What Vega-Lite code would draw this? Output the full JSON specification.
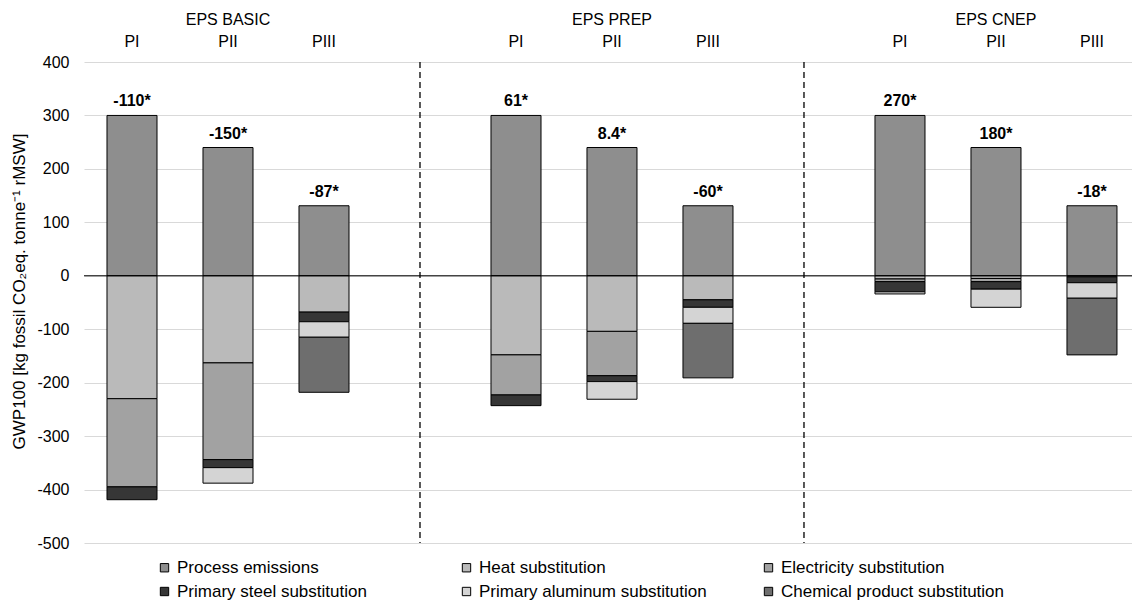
{
  "$schema": "https://vega.github.io/schema/vega-lite/v6.json",
  "width": 1048,
  "height": 481,
  "autosize": {"type": "none"},
  "padding": {"left": 84, "top": 62, "right": 0, "bottom": 57},
  "background": "white",
  "config": {
    "view": {"stroke": null},
    "font": "Liberation Sans",
    "axis": {"labelFont": "Liberation Sans", "titleFont": "Liberation Sans", "labelColor": "#000", "titleColor": "#000"},
    "legend": {"labelFont": "Liberation Sans"}
  },
  "datasets": {
    "bars": [
      {"bar": "BASIC PI", "source": "Process emissions", "ord": 0, "value": 300},
      {"bar": "BASIC PI", "source": "Heat substitution", "ord": 1, "value": -230},
      {"bar": "BASIC PI", "source": "Electricity substitution", "ord": 2, "value": -165},
      {"bar": "BASIC PI", "source": "Primary steel substitution", "ord": 3, "value": -24},
      {"bar": "BASIC PII", "source": "Process emissions", "ord": 0, "value": 240},
      {"bar": "BASIC PII", "source": "Heat substitution", "ord": 1, "value": -163},
      {"bar": "BASIC PII", "source": "Electricity substitution", "ord": 2, "value": -181},
      {"bar": "BASIC PII", "source": "Primary steel substitution", "ord": 3, "value": -15},
      {"bar": "BASIC PII", "source": "Primary aluminum substitution", "ord": 4, "value": -29},
      {"bar": "BASIC PIII", "source": "Process emissions", "ord": 0, "value": 131},
      {"bar": "BASIC PIII", "source": "Heat substitution", "ord": 1, "value": -68},
      {"bar": "BASIC PIII", "source": "Primary steel substitution", "ord": 3, "value": -18},
      {"bar": "BASIC PIII", "source": "Primary aluminum substitution", "ord": 4, "value": -29},
      {"bar": "BASIC PIII", "source": "Chemical product substitution", "ord": 5, "value": -103},
      {"bar": "PREP PI", "source": "Process emissions", "ord": 0, "value": 300},
      {"bar": "PREP PI", "source": "Heat substitution", "ord": 1, "value": -148},
      {"bar": "PREP PI", "source": "Electricity substitution", "ord": 2, "value": -75},
      {"bar": "PREP PI", "source": "Primary steel substitution", "ord": 3, "value": -20},
      {"bar": "PREP PII", "source": "Process emissions", "ord": 0, "value": 240},
      {"bar": "PREP PII", "source": "Heat substitution", "ord": 1, "value": -104},
      {"bar": "PREP PII", "source": "Electricity substitution", "ord": 2, "value": -83},
      {"bar": "PREP PII", "source": "Primary steel substitution", "ord": 3, "value": -11},
      {"bar": "PREP PII", "source": "Primary aluminum substitution", "ord": 4, "value": -33},
      {"bar": "PREP PIII", "source": "Process emissions", "ord": 0, "value": 131},
      {"bar": "PREP PIII", "source": "Heat substitution", "ord": 1, "value": -45},
      {"bar": "PREP PIII", "source": "Primary steel substitution", "ord": 3, "value": -14},
      {"bar": "PREP PIII", "source": "Primary aluminum substitution", "ord": 4, "value": -30},
      {"bar": "PREP PIII", "source": "Chemical product substitution", "ord": 5, "value": -102},
      {"bar": "CNEP PI", "source": "Process emissions", "ord": 0, "value": 300},
      {"bar": "CNEP PI", "source": "Heat substitution", "ord": 1, "value": -6},
      {"bar": "CNEP PI", "source": "Electricity substitution", "ord": 2, "value": -5},
      {"bar": "CNEP PI", "source": "Primary steel substitution", "ord": 3, "value": -19},
      {"bar": "CNEP PI", "source": "Primary aluminum substitution", "ord": 4, "value": -4},
      {"bar": "CNEP PII", "source": "Process emissions", "ord": 0, "value": 240},
      {"bar": "CNEP PII", "source": "Heat substitution", "ord": 1, "value": -5},
      {"bar": "CNEP PII", "source": "Electricity substitution", "ord": 2, "value": -6},
      {"bar": "CNEP PII", "source": "Primary steel substitution", "ord": 3, "value": -14},
      {"bar": "CNEP PII", "source": "Primary aluminum substitution", "ord": 4, "value": -34},
      {"bar": "CNEP PIII", "source": "Process emissions", "ord": 0, "value": 131},
      {"bar": "CNEP PIII", "source": "Heat substitution", "ord": 1, "value": -2},
      {"bar": "CNEP PIII", "source": "Primary steel substitution", "ord": 3, "value": -11},
      {"bar": "CNEP PIII", "source": "Primary aluminum substitution", "ord": 4, "value": -29},
      {"bar": "CNEP PIII", "source": "Chemical product substitution", "ord": 5, "value": -106}
    ],
    "labels": [
      {"bar": "BASIC PI", "top": 300, "label": "-110*"},
      {"bar": "BASIC PII", "top": 240, "label": "-150*"},
      {"bar": "BASIC PIII", "top": 131, "label": "-87*"},
      {"bar": "PREP PI", "top": 300, "label": "61*"},
      {"bar": "PREP PII", "top": 240, "label": "8.4*"},
      {"bar": "PREP PIII", "top": 131, "label": "-60*"},
      {"bar": "CNEP PI", "top": 300, "label": "270*"},
      {"bar": "CNEP PII", "top": 240, "label": "180*"},
      {"bar": "CNEP PIII", "top": 131, "label": "-18*"}
    ],
    "gaps": [{"bar": "gap1"}, {"bar": "gap2"}],
    "zero": [{"v": 0}]
  },
  "encoding": {
    "x": {
      "field": "bar",
      "type": "nominal",
      "sort": null,
      "scale": {
        "domain": ["BASIC PI", "BASIC PII", "BASIC PIII", "gap1", "PREP PI", "PREP PII", "PREP PIII", "gap2", "CNEP PI", "CNEP PII", "CNEP PIII"],
        "paddingInner": 0.479,
        "paddingOuter": 0.198,
        "align": 0.605
      },
      "axis": {
        "orient": "top",
        "title": null,
        "domain": false,
        "ticks": false,
        "labelAngle": 0,
        "labelFontSize": 16,
        "labelPadding": 35,
        "labelLineHeight": 22,
        "labelExpr": "indexof(datum.value, 'gap') == 0 ? '' : (split(datum.value, ' ')[1] == 'PII' ? ['EPS ' + split(datum.value, ' ')[0], 'PII'] : [' ', split(datum.value, ' ')[1]])"
      }
    }
  },
  "layer": [
    {
      "data": {"name": "bars"},
      "mark": {"type": "bar", "stroke": "#000", "strokeWidth": 1},
      "encoding": {
        "y": {
          "field": "value",
          "type": "quantitative",
          "stack": "zero",
          "scale": {"domain": [-500, 400], "nice": false},
          "axis": {
            "values": [-500, -400, -300, -200, -100, 0, 100, 200, 300, 400],
            "labelExpr": "'' + datum.value",
            "title": "GWP100 [kg fossil CO₂eq. tonne⁻¹ rMSW]",
            "titleFontSize": 17,
            "titleFontWeight": "normal",
            "titlePadding": 8,
            "titleY": 229,
            "labelFontSize": 16,
            "labelPadding": 15,
            "ticks": false,
            "domain": false,
            "gridColor": "#d9d9d9",
            "gridWidth": 1
          }
        },
        "order": {"field": "ord", "type": "quantitative"},
        "fill": {
          "field": "source",
          "type": "nominal",
          "scale": {
            "domain": ["Process emissions", "Primary steel substitution", "Heat substitution", "Primary aluminum substitution", "Electricity substitution", "Chemical product substitution"],
            "range": ["#8e8e8e", "#363636", "#bababa", "#d4d4d4", "#a2a2a2", "#6e6e6e"]
          },
          "legend": {
            "orient": "none",
            "legendX": 72,
            "legendY": 497,
            "columns": 3,
            "gridAlign": "all",
            "columnPadding": 53,
            "rowPadding": 6,
            "padding": 0,
            "title": null,
            "symbolType": "square",
            "symbolSize": 70,
            "symbolStrokeColor": "#000",
            "symbolStrokeWidth": 1,
            "labelFontSize": 17,
            "labelOffset": 4,
            "labelColor": "#000",
            "labelLimit": 400
          }
        }
      }
    },
    {
      "data": {"name": "zero"},
      "mark": {"type": "rule", "color": "#000", "strokeWidth": 1},
      "encoding": {"y": {"field": "v", "type": "quantitative"}, "x": null}
    },
    {
      "data": {"name": "gaps"},
      "mark": {"type": "rule", "color": "#000", "strokeWidth": 1.3, "strokeDash": [6, 4]},
      "encoding": {
        "y": {"datum": 400, "type": "quantitative"},
        "y2": {"datum": -500}
      }
    },
    {
      "data": {"name": "labels"},
      "mark": {"type": "text", "baseline": "bottom", "dy": -6, "fontSize": 16, "fontWeight": "bold", "color": "#000", "font": "Liberation Sans"},
      "encoding": {
        "y": {"field": "top", "type": "quantitative"},
        "text": {"field": "label"}
      }
    }
  ]
}
